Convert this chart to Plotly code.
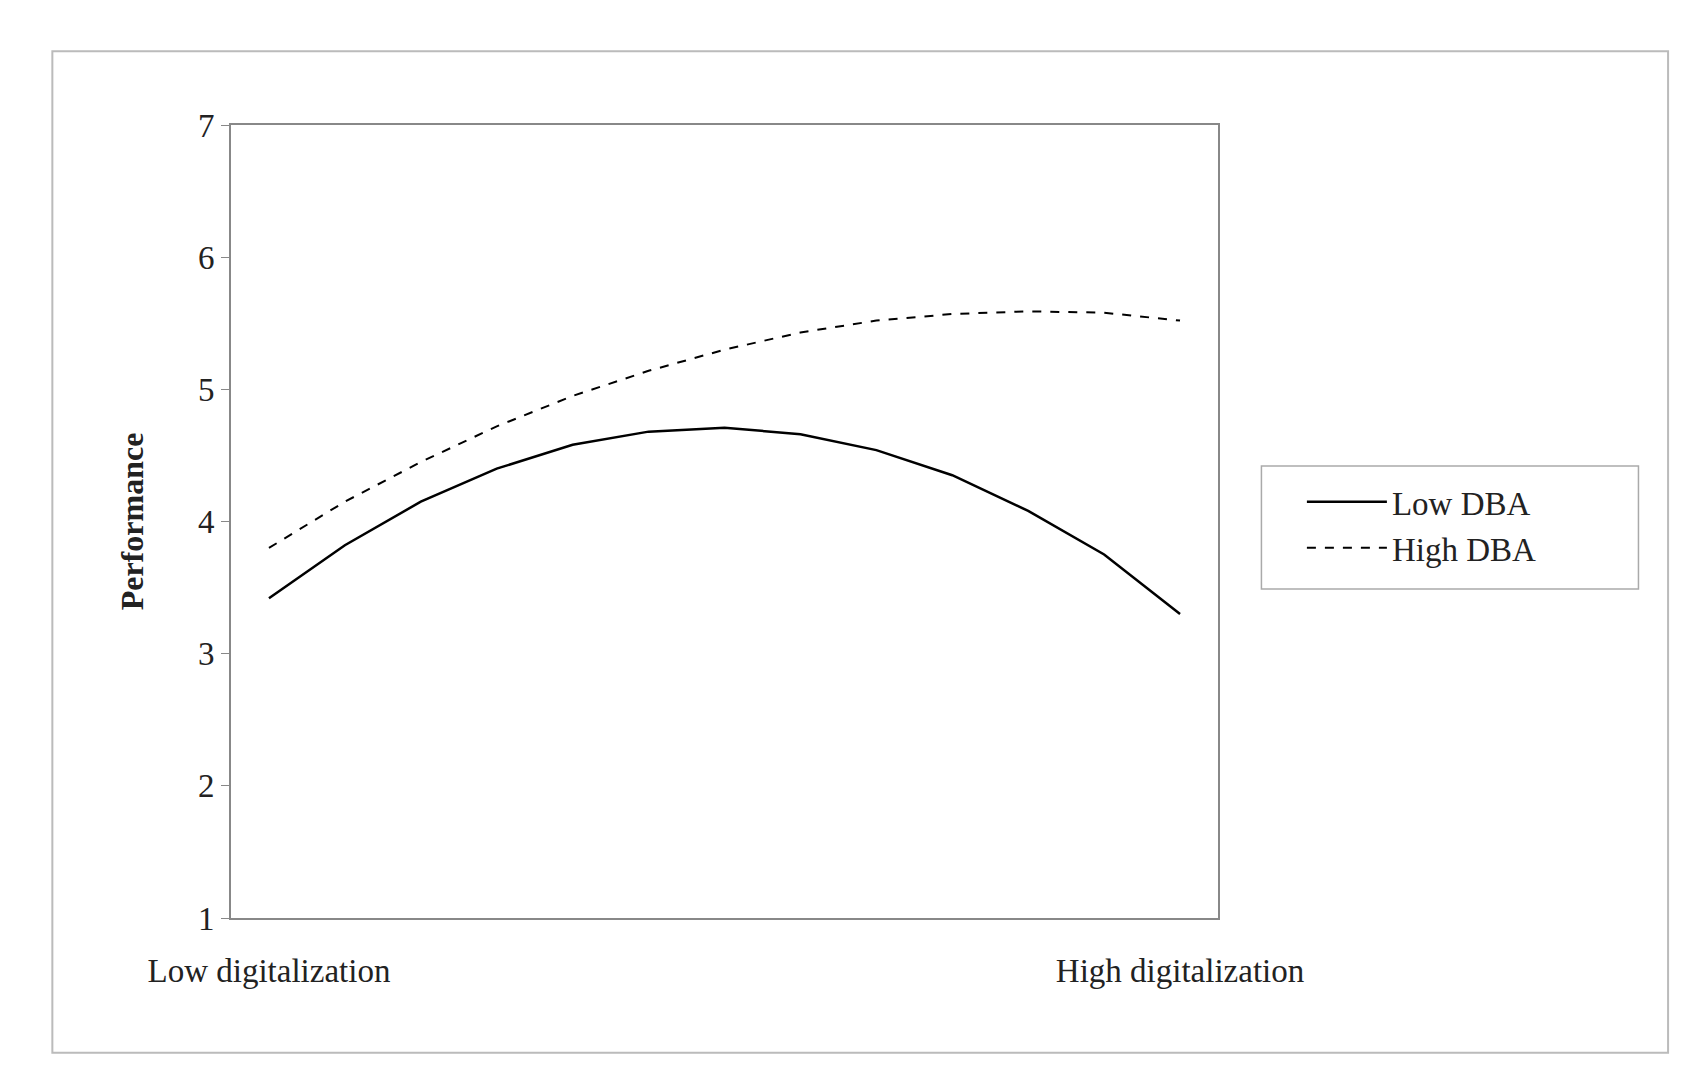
import plotly.graph_objects as go

x_idx = list(range(13))
low_dba = [3.42, 3.82, 4.15, 4.40, 4.58, 4.68, 4.71, 4.66, 4.54, 4.35, 4.08, 3.75, 3.30]
high_dba = [3.80, 4.15, 4.45, 4.72, 4.95, 5.14, 5.30, 5.43, 5.52, 5.57, 5.59, 5.58, 5.52]
x_ticks = [0, 12]
x_ticklabels = ["Low digitalization", "High digitalization"]
y_ticks = [1, 2, 3, 4, 5, 6, 7]

font = "Liberation Serif, Times New Roman, serif"
fig = go.Figure()
fig.add_trace(go.Scatter(x=x_idx, y=low_dba, mode="lines", name="Low DBA",
                         line=dict(color="black", width=2.5)))
fig.add_trace(go.Scatter(x=x_idx, y=high_dba, mode="lines", name="High DBA",
                         line=dict(color="black", width=2, dash="dash")))

fig.update_layout(
    width=1701, height=1080,
    margin=dict(l=223, r=491, t=117, b=170),
    paper_bgcolor="white", plot_bgcolor="white",
    font=dict(family=font, size=33, color="#222"),
    showlegend=True,
    legend=dict(x=1.085, y=0.56, xanchor="left", yanchor="top",
                borderwidth=0, bgcolor="rgba(0,0,0,0)", font=dict(size=33),
                itemwidth=80, tracegroupgap=0),
    shapes=[dict(type="rect", xref="paper", yref="paper",
                 x0=-0.181, x1=1.456, y0=-0.170, y1=1.093,
                 line=dict(color="#bbb", width=2), layer="below"),
            dict(type="rect", xref="paper", yref="paper",
                 x0=1.044, x1=1.426, y0=0.415, y1=0.570,
                 line=dict(color="#aaa", width=1.5), layer="below")],
)
fig.update_xaxes(range=[-0.5, 12.5], tickvals=x_ticks, ticktext=x_ticklabels,
                 showgrid=False, zeroline=False, showline=True, linecolor="#888",
                 linewidth=2, mirror=True, ticks="", ticklen=0,
                 ticklabelstandoff=22)
fig.update_yaxes(range=[1, 7], tickvals=y_ticks, showgrid=False, zeroline=False,
                 showline=True, linecolor="#888", linewidth=2, mirror=True,
                 ticks="outside", ticklen=8, tickcolor="#888",
                 title=dict(text="<b>Performance</b>", standoff=45, font=dict(size=32)))
fig.write_html("out.html")
